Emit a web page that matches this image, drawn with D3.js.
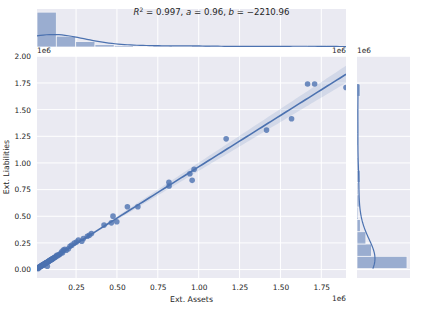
<!DOCTYPE html>
<html>
<head>
<meta charset="utf-8">
<script src="https://cdn.jsdelivr.net/npm/d3@7"></script>
<style>
  body { margin: 0; background: #fff; }
  svg { display: block; }
  text { font-family: "DejaVu Sans", sans-serif; fill: #262626; }
</style>
</head>
<body>
<div id="chart"></div>
<script>
// ext. assets / ext. liabilities (raw units)
const extAssets = [
  11000, 14000, 17000, 19000, 21000, 24000, 26000, 29000, 31000, 34000,
  36000, 38000, 41000, 43000, 46000, 48000, 50000, 53000, 55000, 57000,
  60000, 62000, 65000, 67000, 70000, 72000, 74000, 76000, 79000, 81000,
  84000, 86000, 89000, 91000, 94000, 97000, 100000, 103000, 106000, 109000,
  111000, 115000, 119000, 123000, 127000,
  132000, 137000, 143000, 149000, 155000, 162000, 167000, 172000, 181000, 190000,
  203000, 213000, 224000, 239000,
  252000, 264000, 285000, 295000, 319000, 331000, 344000,
  421000, 466000, 499000, 476000, 564000, 628000, 818000, 819000, 946000, 960000,
  972000, 1168000, 1415000, 1568000, 1666000, 1709000, 1901000
];
const extLiabilities = [
  12000, 14000, 15000, 9000, 20000, 21000, 24000, 27000, 28000, 31000,
  33000, 37000, 38000, 41000, 44000, 45000, 40000, 49000, 52000, 54000,
  56000, 58000, 61000, 63000, 66000, 68000, 31000, 71000, 74000, 76000,
  80000, 83000, 85000, 87000, 89000, 93000, 95000, 98000, 101000, 104000,
  106000, 111000, 113000, 118000, 122000,
  135000, 130000, 139000, 142000, 150000, 166000, 158000, 182000, 191000, 181000,
  195000, 219000, 229000, 248000,
  258000, 276000, 266000, 292000, 313000, 322000, 339000,
  417000, 438000, 448000, 501000, 589000, 589000, 818000, 784000, 899000, 837000,
  941000, 1226000, 1308000, 1414000, 1740000, 1740000, 1708000
];
const xTickValues = [250000, 500000, 750000, 1000000, 1250000, 1500000, 1750000];
const yTickValues = [0, 250000, 500000, 750000, 1000000, 1250000, 1500000, 1750000, 2000000];
const titleParts = [
  { t: "R", it: true }, { t: "2", sup: true }, { t: " = 0.997, " },
  { t: "a", it: true }, { t: " = 0.96, " },
  { t: "b", it: true }, { t: " = \u22122210.96" }
];
const xBins = 16;
const yBins = 15;

const blue = "#4C72B0";
const panelBg = "#EAEAF2";

const main = { left: 37, right: 346, top: 56, bottom: 278 };
const topM = { top: 9, bottom: 47 };
const rightM = { left: 357, right: 410 };

const svg = d3
  .select("#chart")
  .append("svg")
  .attr("width", 423)
  .attr("height", 313);

const x = d3.scaleLinear().domain(d3.extent(extAssets)).range([main.left, main.right]);
const y = d3.scaleLinear().domain([-79000, 2003000]).range([main.bottom, main.top]);

const points = extAssets.map((d, i) => ({ x: d, y: extLiabilities[i] }));
const n = points.length;

// panels
svg.append("rect").attr("x", main.left).attr("y", main.top)
  .attr("width", main.right - main.left).attr("height", main.bottom - main.top).attr("fill", panelBg);
svg.append("rect").attr("x", main.left).attr("y", topM.top)
  .attr("width", main.right - main.left).attr("height", topM.bottom - topM.top).attr("fill", panelBg);
svg.append("rect").attr("x", rightM.left).attr("y", main.top)
  .attr("width", rightM.right - rightM.left).attr("height", main.bottom - main.top).attr("fill", panelBg);

// grid
const yGrid = yTickValues.filter((d) => y(d) <= main.bottom && y(d) >= main.top);
svg.append("g").selectAll("line").data(xTickValues).join("line")
  .attr("x1", (d) => x(d)).attr("x2", (d) => x(d))
  .attr("y1", main.top).attr("y2", main.bottom)
  .attr("stroke", "#fff").attr("stroke-width", 1);
svg.append("g").selectAll("line").data(xTickValues).join("line")
  .attr("x1", (d) => x(d)).attr("x2", (d) => x(d))
  .attr("y1", topM.top).attr("y2", topM.bottom)
  .attr("stroke", "#fff").attr("stroke-width", 1);
svg.append("g").selectAll("line").data(yGrid).join("line")
  .attr("x1", main.left).attr("x2", main.right)
  .attr("y1", (d) => y(d)).attr("y2", (d) => y(d))
  .attr("stroke", "#fff").attr("stroke-width", 1);
svg.append("g").selectAll("line").data(yGrid).join("line")
  .attr("x1", rightM.left).attr("x2", rightM.right)
  .attr("y1", (d) => y(d)).attr("y2", (d) => y(d))
  .attr("stroke", "#fff").attr("stroke-width", 1);

// regression fit + 95% band (robust/sandwich se, close to seaborn's bootstrap)
const xm = d3.mean(points, (d) => d.x);
const ym = d3.mean(points, (d) => d.y);
const sxx = d3.sum(points, (d) => (d.x - xm) ** 2);
const sxy = d3.sum(points, (d) => (d.x - xm) * (d.y - ym));
const slope = sxy / sxx;
const icpt = ym - slope * xm;
const res = points.map((d) => ({ c: d.x - xm, e2: (d.y - icpt - slope * d.x) ** 2 }));
const vA = d3.sum(res, (r) => r.e2) / (n * n);
const vB = d3.sum(res, (r) => r.c * r.c * r.e2) / (sxx * sxx);
const cAB = d3.sum(res, (r) => r.c * r.e2) / (n * sxx);
const [xmin, xmax] = d3.extent(extAssets);
const grid = d3.range(100).map((i) => xmin + (i * (xmax - xmin)) / 99);
const fit = grid.map((g) => {
  const dd = g - xm;
  const se = Math.sqrt(Math.max(0, vA + dd * dd * vB + 2 * dd * cAB));
  const yh = icpt + slope * g;
  return { x: g, y: yh, lo: yh - 1.96 * se, hi: yh + 1.96 * se };
});

svg.append("clipPath").attr("id", "clipMain").append("rect")
  .attr("x", main.left).attr("y", main.top)
  .attr("width", main.right - main.left).attr("height", main.bottom - main.top);

const plot = svg.append("g").attr("clip-path", "url(#clipMain)");

plot.selectAll("circle").data(points).join("circle")
  .attr("cx", (d) => x(d.x)).attr("cy", (d) => y(d.y))
  .attr("r", 2.8).attr("fill", blue).attr("fill-opacity", 0.8);

plot.append("path").datum(fit)
  .attr("d", d3.area().x((d) => x(d.x)).y0((d) => y(d.lo)).y1((d) => y(d.hi)))
  .attr("fill", blue).attr("fill-opacity", 0.15);

plot.append("path").datum(fit)
  .attr("d", d3.line().x((d) => x(d.x)).y((d) => y(d.y)))
  .attr("fill", "none").attr("stroke", blue).attr("stroke-width", 1.6);

// kde helper (scott bandwidth, evaluated over data range)
function kde(values, pts) {
  const h = d3.deviation(values) * Math.pow(values.length, -0.2);
  return pts.map((g) => ({
    v: g,
    d: d3.mean(values, (v) => Math.exp(-0.5 * ((g - v) / h) ** 2)) / (h * Math.sqrt(2 * Math.PI))
  }));
}

// top marginal
const xStep = (xmax - xmin) / xBins;
const binsX = d3.bin().domain([xmin, xmax])
  .thresholds(d3.range(1, xBins).map((i) => xmin + i * xStep))(extAssets);
const yTop = d3.scaleLinear().domain([0, d3.max(binsX, (b) => b.length) * 1.09]).range([topM.bottom, topM.top]);

svg.append("g").selectAll("rect").data(binsX).join("rect")
  .attr("x", (d) => x(d.x0)).attr("width", (d) => x(d.x1) - x(d.x0))
  .attr("y", (d) => yTop(d.length)).attr("height", (d) => topM.bottom - yTop(d.length))
  .attr("fill", blue).attr("opacity", 0.5)
  .attr("stroke", "#fff").attr("stroke-width", 0.8);

const kx = kde(extAssets, grid).map((p) => ({ v: p.v, c: p.d * n * xStep }));
svg.append("path").datum(kx)
  .attr("d", d3.line().x((d) => x(d.v)).y((d) => yTop(d.c)))
  .attr("fill", "none").attr("stroke", blue).attr("stroke-width", 1.2);

// right marginal
const [ymin, ymax] = d3.extent(extLiabilities);
const yStep = (ymax - ymin) / yBins;
const binsY = d3.bin().domain([ymin, ymax])
  .thresholds(d3.range(1, yBins).map((i) => ymin + i * yStep))(extLiabilities);
const xRight = d3.scaleLinear().domain([0, d3.max(binsY, (b) => b.length) * 1.06]).range([rightM.left, rightM.right]);

svg.append("g").selectAll("rect").data(binsY).join("rect")
  .attr("y", (d) => y(d.x1)).attr("height", (d) => y(d.x0) - y(d.x1))
  .attr("x", rightM.left).attr("width", (d) => xRight(d.length) - rightM.left)
  .attr("fill", blue).attr("opacity", 0.5)
  .attr("stroke", "#fff").attr("stroke-width", 0.8);

const gy = d3.range(100).map((i) => ymin + (i * (ymax - ymin)) / 99);
const ky = kde(extLiabilities, gy).map((p) => ({ v: p.v, c: p.d * n * yStep }));
svg.append("path").datum(ky)
  .attr("d", d3.line().x((d) => xRight(d.c)).y((d) => y(d.v)))
  .attr("fill", "none").attr("stroke", blue).attr("stroke-width", 1.2);

// axes
const fmt = (d) => (d / 1e6).toFixed(2);
const xAxis = svg.append("g")
  .attr("transform", `translate(0, ${main.bottom})`)
  .call(d3.axisBottom(x).tickValues(xTickValues).tickSize(0).tickPadding(7).tickFormat(fmt));
const yAxis = svg.append("g")
  .attr("transform", `translate(${main.left}, 0)`)
  .call(d3.axisLeft(y).tickValues(yTickValues).tickSize(0).tickPadding(6).tickFormat(fmt));
[xAxis, yAxis].forEach((g) => {
  g.select(".domain").remove();
  g.selectAll("text").attr("font-size", 7.4).attr("font-family", "DejaVu Sans").attr("fill", "#262626");
});

svg.append("text").attr("x", (main.left + main.right) / 2).attr("y", 302)
  .attr("text-anchor", "middle").attr("font-size", 7.8).text("Ext. Assets");
svg.append("text").attr("transform", `translate(9, ${(main.top + main.bottom) / 2}) rotate(-90)`)
  .attr("text-anchor", "middle").attr("font-size", 7.8).text("Ext. Liabilities");

// offset labels
const offs = [
  { x: main.left, y: 53, a: "start" },
  { x: main.right, y: 53, a: "end" },
  { x: rightM.left, y: 53, a: "start" },
  { x: main.right, y: 301, a: "end" }
];
svg.append("g").selectAll("text").data(offs).join("text")
  .attr("x", (d) => d.x).attr("y", (d) => d.y)
  .attr("text-anchor", (d) => d.a).attr("font-size", 7.4).text("1e6");

// title
const title = svg.append("text").attr("x", 211.5).attr("y", 15)
  .attr("text-anchor", "middle").attr("font-size", 8.6);
titleParts.forEach((p, i) => {
  const ts = title.append("tspan").text(p.t);
  if (p.it) ts.attr("font-style", "italic");
  if (p.sup) ts.attr("font-size", 6).attr("dy", -3.5);
  else if (i > 0 && titleParts[i - 1].sup) ts.attr("dy", 3.5);
});
</script>
</body>
</html>
